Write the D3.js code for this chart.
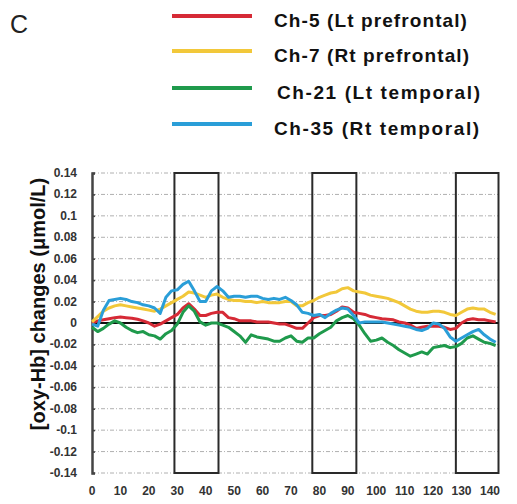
<!DOCTYPE html>
<html>
<head>
<meta charset="utf-8">
<script src="https://cdn.jsdelivr.net/npm/d3@7"></script>
<style>
  html, body { margin: 0; padding: 0; background: #fff; }
  svg { display: block; }
</style>
</head>
<body>
<svg id="chart" width="517" height="504"></svg>
<script>
// ---- data ----
const seconds = [0,2,4,6,8,10,12,14,16,18,20,22,24,26,28,30,32,34,36,38,40,42,44,46,48,50,52,54,56,58,60,62,64,66,68,70,72,74,76,78,80,82,84,86,88,90,92,94,96,98,100,102,104,106,108,110,112,114,116,118,120,122,124,126,128,130,132,134,136,138,140,142];

const ch5 = [0,0.002,0.003,0.004,0.005,0.0055,0.005,0.0045,0.0035,0.002,0,-0.003,-0.001,0.002,0.005,0.008,0.014,0.018,0.013,0.007,0.007,0.009,0.010,0.010,0.005,0.004,0.002,0.002,0.002,0.001,0.001,0.001,0,-0.001,-0.001,-0.003,-0.005,-0.005,0,0.005,0.007,0.007,0.008,0.011,0.015,0.014,0.010,0.009,0.008,0.006,0.005,0.004,0.0035,0.003,0.001,0,-0.002,-0.005,-0.004,-0.003,-0.003,-0.003,-0.004,-0.006,-0.005,0,0.003,0.004,0.003,0.003,0.002,0.001];

const ch7 = [0.001,0.006,0.011,0.014,0.016,0.017,0.016,0.015,0.014,0.013,0.012,0.011,0.013,0.016,0.019,0.022,0.025,0.029,0.028,0.026,0.024,0.026,0.027,0.024,0.022,0.021,0.021,0.020,0.020,0.019,0.020,0.019,0.019,0.019,0.020,0.020,0.016,0.016,0.019,0.021,0.024,0.026,0.028,0.029,0.032,0.033,0.030,0.029,0.028,0.026,0.025,0.024,0.023,0.021,0.019,0.016,0.013,0.011,0.010,0.010,0.011,0.011,0.010,0.008,0.007,0.010,0.013,0.014,0.013,0.013,0.010,0.008];

const ch21 = [-0.004,-0.008,-0.005,-0.001,0.002,0,-0.004,-0.007,-0.009,-0.008,-0.011,-0.012,-0.015,-0.010,-0.007,-0.001,0.010,0.016,0.011,0.001,-0.002,0,0,-0.002,-0.004,-0.008,-0.012,-0.018,-0.011,-0.013,-0.014,-0.015,-0.017,-0.017,-0.014,-0.012,-0.017,-0.018,-0.014,-0.014,-0.010,-0.007,-0.004,0.002,0.005,0.007,0.004,-0.002,-0.010,-0.017,-0.016,-0.014,-0.018,-0.021,-0.025,-0.028,-0.031,-0.029,-0.027,-0.029,-0.023,-0.022,-0.021,-0.023,-0.022,-0.019,-0.014,-0.012,-0.015,-0.018,-0.019,-0.021];

const ch35 = [-0.001,-0.003,0.012,0.021,0.022,0.023,0.022,0.020,0.019,0.017,0.016,0.014,0.009,0.024,0.030,0.031,0.036,0.039,0.030,0.020,0.020,0.030,0.034,0.030,0.024,0.025,0.025,0.024,0.025,0.025,0.023,0.022,0.023,0.022,0.024,0.021,0.017,0.010,0.009,0.007,0.008,0.005,0.009,0.012,0.014,0.013,0.007,0.000,0.001,0.001,0.001,0.001,0.000,-0.001,-0.002,-0.003,-0.004,-0.006,-0.007,-0.005,0.000,-0.001,-0.005,-0.013,-0.017,-0.014,-0.011,-0.008,-0.006,-0.011,-0.015,-0.018];

const seriesNames = ["Ch-5 (Lt prefrontal)", "Ch-7 (Rt prefrontal)", "Ch-21 (Lt temporal)", "Ch-35 (Rt temporal)"];
const seriesColors = ["#d62a36", "#f2c83a", "#1f9a4c", "#2a9ed8"];
const seriesValues = [ch5, ch7, ch21, ch35];

const yTicks = [0.14,0.12,0.1,0.08,0.06,0.04,0.02,0,-0.02,-0.04,-0.06,-0.08,-0.1,-0.12,-0.14];
const yTickLabels = ["0.14","0.12","0.1","0.08","0.06","0.04","0.02","0","-0.02","-0.04","-0.06","-0.08","-0.1","-0.12","-0.14"];
const xTicks = [0,10,20,30,40,50,60,70,80,90,100,110,120,130,140];
const taskBlocks = [[29,44.5],[77.5,93],[128,143]];

// ---- layout ----
const svg = d3.select("#chart");
const x = d3.scaleLinear().domain([0, 143]).range([92, 498.5]);
const y = d3.scaleLinear().domain([-0.14, 0.14]).range([473, 173]);

// gridlines
svg.append("g").selectAll("line").data(yTicks.filter(d => d !== 0)).join("line")
  .attr("x1", x(0)).attr("x2", x(143))
  .attr("y1", d => y(d)).attr("y2", d => y(d))
  .attr("stroke", "#b0b0b0").attr("stroke-width", 1)
  .attr("stroke-dasharray", "4,2,1,2");

// task blocks
svg.append("g").selectAll("rect").data(taskBlocks).join("rect")
  .attr("x", d => x(d[0])).attr("y", y(0.14))
  .attr("width", d => x(d[1]) - x(d[0])).attr("height", y(-0.14) - y(0.14))
  .attr("fill", "none").attr("stroke", "#2a2a2a").attr("stroke-width", 2);

// zero line
svg.append("line")
  .attr("x1", x(0)).attr("x2", x(143))
  .attr("y1", y(0)).attr("y2", y(0))
  .attr("stroke", "#111").attr("stroke-width", 2);

// y axis
const yAxis = d3.axisRight(y).tickValues(yTicks).tickSize(3).tickFormat("");
const yg = svg.append("g").attr("transform", `translate(${x(0)},0)`).call(yAxis);
yg.select(".domain").attr("stroke", "#444").attr("stroke-width", 2.5);
yg.selectAll(".tick line").attr("stroke", "#444").attr("stroke-width", 1.5);

svg.append("g").selectAll("text").data(yTicks).join("text")
  .attr("x", 77).attr("y", d => y(d) + 4)
  .attr("text-anchor", "end")
  .attr("font-family", "Liberation Sans, Arial, sans-serif")
  .attr("font-weight", "bold").attr("font-size", 12)
  .attr("fill", "#333")
  .text((d, i) => yTickLabels[i]);

// x labels
svg.append("g").selectAll("text").data(xTicks).join("text")
  .attr("x", d => x(d)).attr("y", 495)
  .attr("text-anchor", "middle")
  .attr("font-family", "Liberation Sans, Arial, sans-serif")
  .attr("font-weight", "bold").attr("font-size", 12)
  .attr("fill", "#333")
  .text(d => d);

// data lines
const line = d3.line().x((d, i) => x(seconds[i])).y(d => y(d)).curve(d3.curveLinear);
svg.append("g").selectAll("path").data(seriesValues).join("path")
  .attr("d", d => line(d))
  .attr("fill", "none")
  .attr("stroke", (d, i) => seriesColors[i])
  .attr("stroke-width", 3)
  .attr("stroke-linejoin", "round");

// y title
svg.append("text")
  .attr("transform", "translate(45,304) rotate(-90)")
  .attr("text-anchor", "middle")
  .attr("font-family", "Liberation Sans, Arial, sans-serif")
  .attr("font-weight", "bold").attr("font-size", 20)
  .attr("fill", "#111")
  .text("[oxy-Hb] changes (μmol/L)");

// panel label
svg.append("text")
  .attr("x", 10).attr("y", 33)
  .attr("font-family", "Liberation Sans, Arial, sans-serif")
  .attr("font-size", 25).attr("fill", "#222")
  .text("C");

// legend
const legendY = [16, 51, 88, 124];
const lg = svg.append("g");
lg.selectAll("line").data(seriesNames).join("line")
  .attr("x1", 172).attr("x2", 252)
  .attr("y1", (d, i) => legendY[i]).attr("y2", (d, i) => legendY[i])
  .attr("stroke", (d, i) => seriesColors[i]).attr("stroke-width", 4);
lg.selectAll("text").data(seriesNames).join("text")
  .attr("x", (d, i) => i === 2 ? 277 : 274)
  .attr("y", (d, i) => legendY[i] + 11)
  .attr("font-family", "Liberation Sans, Arial, sans-serif")
  .attr("font-weight", "bold").attr("font-size", 19)
  .attr("letter-spacing", (d, i) => i < 2 ? 1.1 : 1.6)
  .attr("fill", "#111")
  .text(d => d);
</script>
</body>
</html>
